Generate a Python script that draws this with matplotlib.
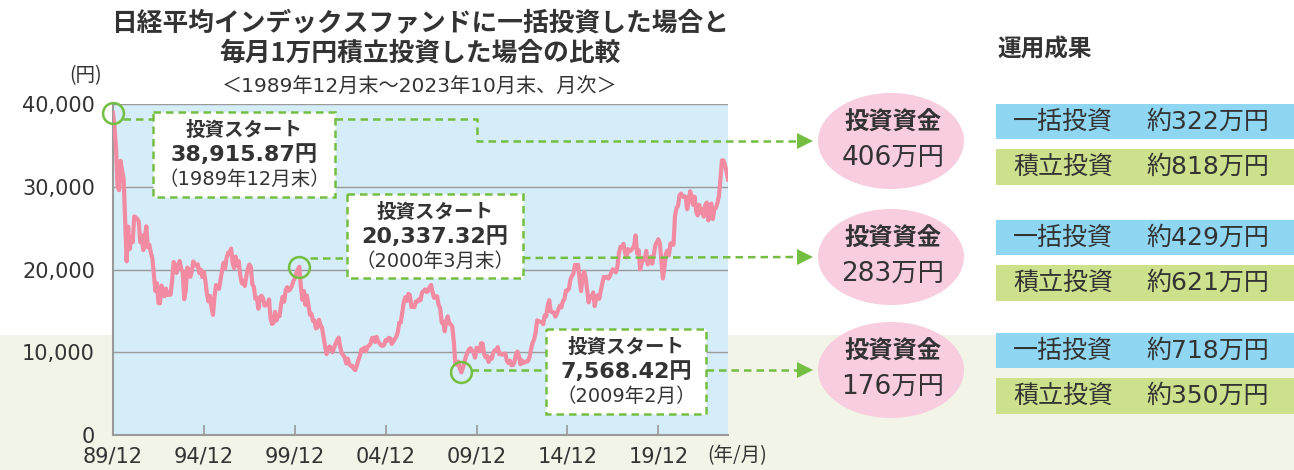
import matplotlib.pyplot as plt
from matplotlib.patches import Rectangle, Ellipse

plt.rcParams['font.family'] = ['Noto Sans CJK JP', 'DejaVu Sans']

# Nikkei 225 month-end close, 1989/12 .. 2023/10
nikkei = [38915.87,
    37189, 34592, 29980, 29585, 33131, 31940, 31036, 25978, 20984, 25194, 22455, 23849,  # 1990
    23293, 26409, 26292, 26111, 25790, 23291, 24121, 22336, 23916, 25222, 22688, 22984,  # 1991
    22023, 21339, 19346, 17391, 18348, 15952, 15910, 18061, 17399, 16767, 17684, 16925,  # 1992
    17024, 16953, 18591, 20919, 20552, 19590, 20380, 21027, 20106, 19703, 16408, 17417,  # 1993
    20229, 19997, 19112, 19725, 20974, 20644, 20449, 20629, 19564, 19990, 19076, 19723,  # 1994
    18650, 17053, 16140, 16807, 15437, 14517, 16678, 18117, 17913, 17655, 18744, 19868,  # 1995
    20813, 20125, 21407, 22041, 21956, 22531, 20693, 20167, 21556, 20466, 21020, 19361,  # 1996
    18330, 18557, 18003, 19151, 20069, 20605, 20331, 18229, 17888, 16459, 16636, 15259,  # 1997
    16628, 16832, 16527, 15641, 15671, 15831, 16379, 14108, 13406, 13564, 14884, 13842,  # 1998
    14499, 14368, 15837, 16702, 16112, 17530, 17862, 17437, 17605, 17942, 18558, 18934,  # 1999
    19540, 19960, 20337.32, 17974, 16332, 17411, 15727, 16861, 15747, 14539, 14649, 13786,  # 2000
    13844, 12884, 12999, 13934, 13262, 12969, 11861, 10714, 9775, 10366, 10697, 10543,  # 2001
    9998, 10588, 11025, 11493, 11764, 10622, 9877, 9619, 9383, 8640, 9216, 8579,  # 2002
    8340, 8363, 7973, 7831, 8425, 9083, 9563, 10344, 10219, 10560, 10101, 10677,  # 2003
    10784, 11042, 11715, 11762, 11237, 11859, 11326, 11082, 10824, 10771, 10899, 11489,  # 2004
    11388, 11740, 11669, 11009, 11277, 11584, 11900, 12414, 13574, 13607, 14872, 16111,  # 2005
    16650, 16205, 17060, 16906, 15467, 15505, 15457, 16141, 16128, 16399, 16274, 17226,  # 2006
    17383, 17604, 17288, 17400, 17876, 18138, 17248, 16569, 16786, 16738, 15681, 15308,  # 2007
    13592, 13603, 12526, 13850, 14339, 13481, 13377, 13073, 11260, 8577, 8512, 8860,  # 2008
    7994, 7568.42, 8110, 8828, 9523, 9958, 10357, 10493, 10133, 10035, 9346, 10546,  # 2009
    10198, 10126, 11090, 11057, 9769, 9383, 9537, 8824, 9369, 9202, 9937, 10229,  # 2010
    10238, 10624, 9755, 9850, 9694, 9816, 9833, 8955, 8700, 8988, 8435, 8455,  # 2011
    8803, 9723, 10084, 9521, 8543, 9007, 8695, 8840, 8870, 8928, 9446, 10395,  # 2012
    11139, 11559, 12398, 13861, 13775, 13677, 13668, 13389, 14456, 14328, 15662, 16291,  # 2013
    14915, 14841, 14828, 14304, 14632, 15162, 15621, 15425, 16174, 16414, 17460, 17451,  # 2014
    17674, 18798, 19207, 19520, 20563, 20236, 20585, 18890, 17388, 19083, 19747, 19034,  # 2015
    17518, 16027, 16759, 16666, 17235, 15576, 16569, 16887, 16450, 17425, 18308, 19114,  # 2016
    19041, 19119, 18909, 19197, 19651, 20033, 19925, 19646, 20356, 22012, 22725, 22765,  # 2017
    23098, 22068, 21454, 22468, 22202, 22305, 22554, 22865, 24120, 21920, 22351, 20015,  # 2018
    20773, 21385, 21206, 22259, 20601, 21276, 21522, 20704, 21756, 22927, 23294, 23657,  # 2019
    23205, 21143, 18917, 20194, 21878, 22288, 21710, 23140, 23185, 22977, 26434, 27444,  # 2020
    27663, 28966, 29179, 28813, 28860, 28792, 27284, 28090, 29453, 28893, 27822, 28792,  # 2021
    27002, 26527, 27821, 26848, 27280, 26393, 27802, 28092, 25937, 27587, 27969, 26095,  # 2022
    27327, 27446, 28041, 28856, 30888, 33189, 33172, 32619, 31858, 30859]  # 2023

tick_pos = [0, 60, 120, 180, 240, 300, 360]
tick_labels = ['89/12', '94/12', '99/12', '04/12', '09/12', '14/12', '19/12']

start_idx = [0, 123, 230]
start_price = ['38,915.87円', '20,337.32円', '7,568.42円']
start_date = ['（1989年12月末）', '（2000年3月末）', '（2009年2月）']
invest_total = ['406万円', '283万円', '176万円']
lump_result = ['約322万円', '約429万円', '約718万円']
accum_result = ['約818万円', '約621万円', '約350万円']

W, H = 1294, 470
pink = '#f28ba2'
green = '#74be42'
text_c = '#333333'
num_font = ['DejaVu Sans', 'Noto Sans CJK JP']

fig = plt.figure(figsize=(W / 100, H / 100), dpi=100)
fig.patch.set_facecolor('white')
fig.patches.append(Rectangle((0, 0), 1, (H - 335) / H, transform=fig.transFigure,
                             facecolor='#f1f4e6', edgecolor='none', zorder=-10))

# main chart
ax = fig.add_axes([113 / W, (H - 435) / H, (728 - 113) / W, (435 - 104) / H])
ax.set_facecolor('#d5edf9')
x = list(range(len(nikkei)))
ax.plot(x, nikkei, color=pink, lw=3, solid_joinstyle='round', zorder=3)
ax.set_xlim(0, len(nikkei) - 1)
ax.set_ylim(0, 40000)
ax.set_yticks([0, 10000, 20000, 30000, 40000])
ax.set_yticklabels(['0', '10,000', '20,000', '30,000', '40,000'])
ax.set_xticks(tick_pos)
ax.set_xticklabels(tick_labels)
ax.grid(axis='y', color='#9a9a9a', lw=1)
ax.set_axisbelow(True)
for s in ['top', 'right']:
    ax.spines[s].set_visible(False)
for s in ['left', 'bottom']:
    ax.spines[s].set_color('#9a9a9a')
    ax.spines[s].set_linewidth(1.5)
ax.tick_params(axis='x', direction='in', length=7, color='#9a9a9a', width=1.2,
               labelsize=15, labelcolor=text_c, pad=8)
ax.tick_params(axis='y', length=0, labelsize=15, labelcolor=text_c, pad=13)
for lab in ax.get_xticklabels() + ax.get_yticklabels():
    lab.set_family('DejaVu Sans')

# start circles
ax.plot(start_idx, [nikkei[i] for i in start_idx], 'o', mfc='none', mec=green,
        ms=15, mew=1.8, clip_on=False, zorder=6)

# overlay in pixel coordinates
ov = fig.add_axes([0, 0, 1, 1])
ov.set_xlim(0, W)
ov.set_ylim(H, 0)
ov.axis('off')
ov.patch.set_alpha(0)

dash = dict(color=green, lw=1.8, ls=(0, (3, 2)))

# titles
ov.text(420, 24, '日経平均インデックスファンドに一括投資した場合と', ha='center', va='center',
        fontsize=18.5, weight='bold', color=text_c)
ov.text(420, 53, '毎月1万円積立投資した場合の比較', ha='center', va='center',
        fontsize=18.5, weight='bold', color=text_c)
ov.text(420, 86, '＜1989年12月末～2023年10月末、月次＞', ha='center', va='center',
        fontsize=14.5, color=text_c, family=num_font)
ov.text(86, 76, '(円)', ha='center', va='center', fontsize=14, color=text_c)
ov.text(737, 456, '(年/月)', ha='center', va='center', fontsize=14, color=text_c)
ov.text(1045, 50, '運用成果', ha='center', va='center', fontsize=17, weight='bold', color=text_c)

# annotation boxes: (left, top, right, bottom), connector y
boxes = [(153, 112, 335, 197), (347, 194, 523, 278), (546, 329, 706, 414)]
line_y = [119, 258, 370]
circle_x = [123, 310, 471]
row_y = [141, 257, 370]

for k in range(3):
    l, t, r, b = boxes[k]
    ov.add_patch(Rectangle((l, t), r - l, b - t, facecolor='white', edgecolor=green,
                           lw=1.8, ls=(0, (3, 2)), zorder=4))
    cx = (l + r) / 2
    ov.text(cx, t + 18, '投資スタート', ha='center', va='center', fontsize=14,
            weight='bold', color=text_c, zorder=5)
    ov.text(cx, t + 43, start_price[k], ha='center', va='center', fontsize=16,
            weight='bold', color=text_c, zorder=5, family=num_font)
    ov.text(cx, t + 67, start_date[k], ha='center', va='center', fontsize=14,
            color=text_c, zorder=5, family=num_font)
    ov.plot([circle_x[k], l], [line_y[k], line_y[k]], **dash, zorder=3)
    if k == 0:
        ov.plot([r, 477, 477, 798], [line_y[k], line_y[k], row_y[k], row_y[k]], **dash, zorder=3)
    else:
        ov.plot([r, 798], [line_y[k], row_y[k]], **dash, zorder=3)
    ov.plot([805], [row_y[k]], marker='>', color=green, ms=11, mew=0, zorder=5)

    # pink ellipse
    ov.add_patch(Ellipse((891, row_y[k]), 146, 96, facecolor='#f8cde0', edgecolor='none', zorder=4))
    ov.text(893, row_y[k] - 18, '投資資金', ha='center', va='center', fontsize=17.5,
            weight='bold', color=text_c, zorder=5)
    ov.text(893, row_y[k] + 17, invest_total[k], ha='center', va='center', fontsize=19,
            color=text_c, zorder=5, family=num_font)

    # result boxes
    by = row_y[k] - 37
    ov.add_patch(Rectangle((996, by), W - 996, 35, facecolor='#8fd6f3', edgecolor='none', zorder=4))
    ov.add_patch(Rectangle((996, by + 45), W - 996, 36, facecolor='#cde08c', edgecolor='none', zorder=4))
    ov.text(1013, by + 18, '一括投資', ha='left', va='center', fontsize=18, color=text_c, zorder=5)
    ov.text(1146, by + 18, lump_result[k], ha='left', va='center', fontsize=18, color=text_c,
            zorder=5, family=num_font)
    ov.text(1013, by + 63, '積立投資', ha='left', va='center', fontsize=18, color=text_c, zorder=5)
    ov.text(1146, by + 63, accum_result[k], ha='left', va='center', fontsize=18, color=text_c,
            zorder=5, family=num_font)

fig.savefig('out.png', dpi=100)
